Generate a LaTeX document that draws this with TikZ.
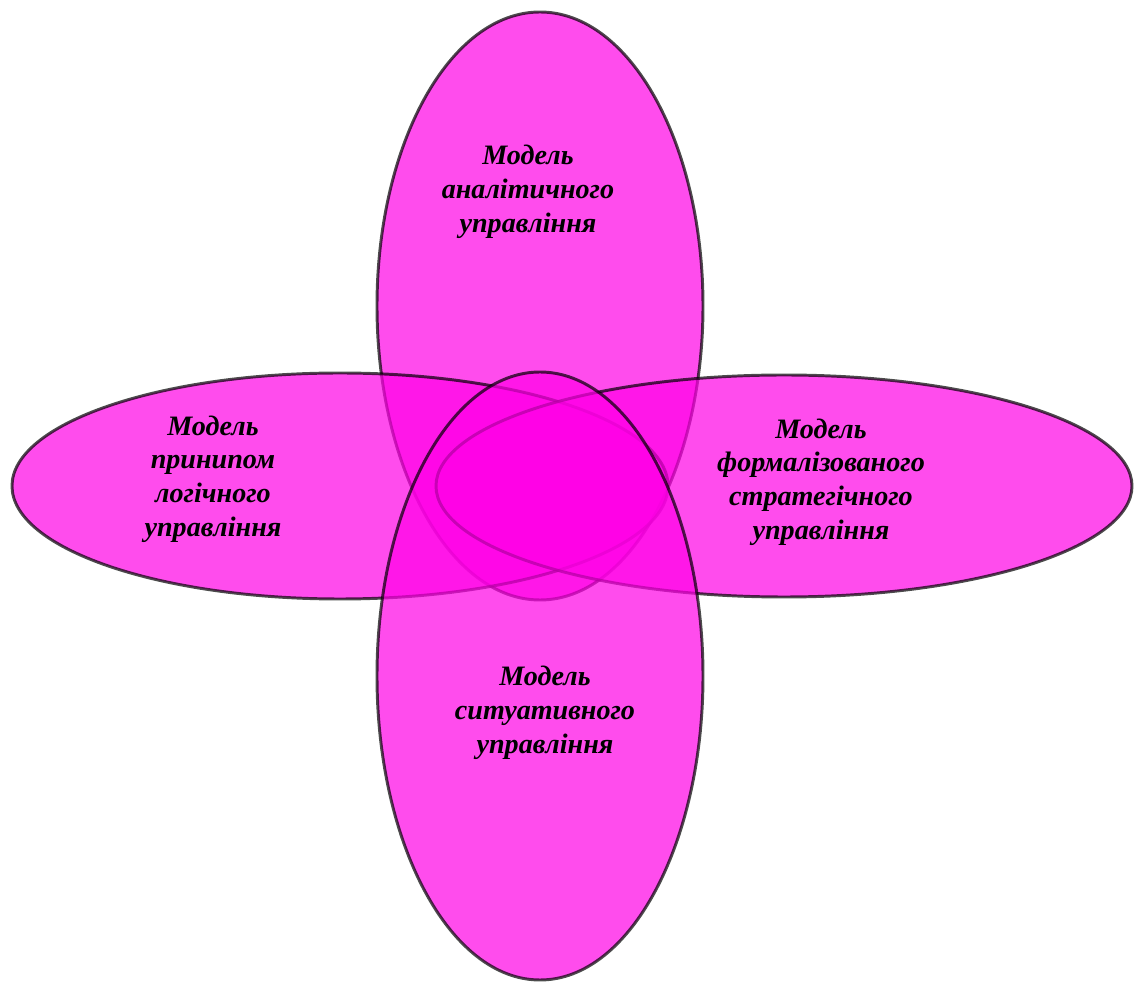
\documentclass[tikz,border=0pt]{standalone}
\usepackage{fontspec}
\setmainfont{Liberation Serif}
\definecolor{petal}{RGB}{255,0,230}
\tikzset{
  petal/.style={fill=petal, draw=black, line width=2.1pt},
  modeltext/.style={align=center, text=black, font=\fontsize{20}{24}\selectfont\bfseries\itshape}
}
\begin{document}
\begin{tikzpicture}[x=0.025cm, y=-0.025cm]
		\useasboundingbox (0,0) rectangle (1134,983);
		%% The four petals are see-through, so the later ones lie over the earlier outlines.
		\begin{scope}[opacity=.7]
			\draw[petal] (540,306) ellipse (163 and 294);
			\draw[petal] (340,486) ellipse (328 and 113);
			\draw[petal] (784,486) ellipse (348 and 111);
			\draw[petal] (540,676) ellipse (163 and 304);
		\end{scope}
		%% Names of the models, one per petal.
		\node[modeltext] (analytic) at (528,192) {Модель\\аналітичного\\управління};
		\node[modeltext] (logic) at (213,479) {Модель\\принипом\\логічного\\управління};
		\node[modeltext] (strategic) at (821,482) {Модель\\формалізованого\\стратегічного\\управління};
		\node[modeltext] (situative) at (545,713) {Модель\\ситуативного\\управління};
	\end{tikzpicture}
\end{document}
